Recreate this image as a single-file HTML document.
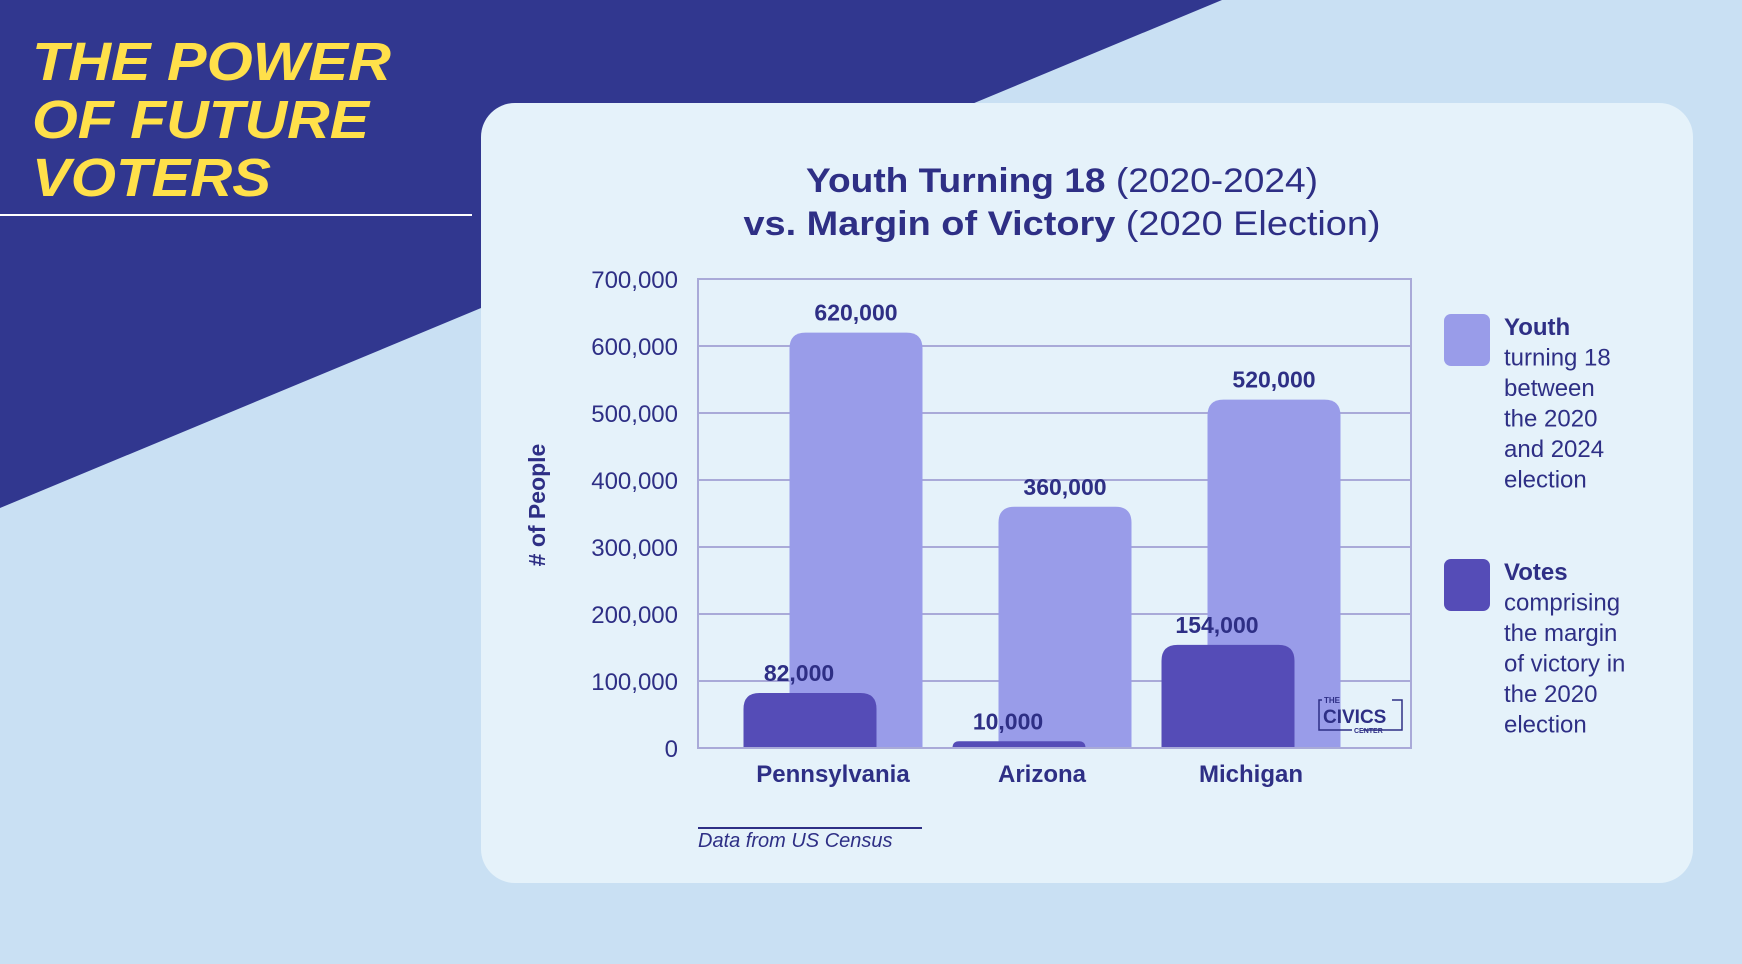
<!DOCTYPE html>
<html><head><meta charset="utf-8"><style>
html,body{margin:0;padding:0;width:1742px;height:964px;overflow:hidden;background:#c9e0f3;font-family:"Liberation Sans",sans-serif}
svg{display:block}
</style></head><body>
<svg width="1742" height="964" viewBox="0 0 1742 964">
<rect x="0" y="0" width="1742" height="964" fill="#c9e0f3"/>
<polygon points="0,0 1222,0 0,508" fill="#31378f"/>
<g font-family="Liberation Sans, sans-serif" font-weight="bold" font-style="italic" font-size="54" fill="#ffe04a">
<text x="32" y="80" textLength="359" lengthAdjust="spacingAndGlyphs">THE POWER</text>
<text x="32" y="138" textLength="337" lengthAdjust="spacingAndGlyphs">OF FUTURE</text>
<text x="32" y="196" textLength="239" lengthAdjust="spacingAndGlyphs">VOTERS</text>
</g>
<line x1="0" y1="215" x2="472" y2="215" stroke="#ffffff" stroke-width="2"/>
<rect x="481" y="103" width="1212" height="780" rx="34" fill="#e5f2fa"/>
<text x="1062" y="192" text-anchor="middle" font-size="34" fill="#2e2f85" textLength="512" lengthAdjust="spacingAndGlyphs"><tspan font-weight="bold">Youth Turning 18</tspan> (2020-2024)</text>
<text x="1062" y="235" text-anchor="middle" font-size="34" fill="#2e2f85" textLength="637" lengthAdjust="spacingAndGlyphs"><tspan font-weight="bold">vs. Margin of Victory</tspan> (2020 Election)</text>
<g id="chart"></g>
<text transform="translate(545,505) rotate(-90)" text-anchor="middle" font-size="23" font-weight="bold" fill="#2e2f85"># of People</text>
<g font-size="24" fill="#2e2f85">
<rect x="1444" y="314" width="46" height="52" rx="7" fill="#999ce9"/>
<text x="1504" y="335"><tspan font-weight="bold">Youth</tspan><tspan x="1504" dy="30.5">turning 18</tspan><tspan x="1504" dy="30.5">between</tspan><tspan x="1504" dy="30.5">the 2020</tspan><tspan x="1504" dy="30.5">and 2024</tspan><tspan x="1504" dy="30.5">election</tspan></text>
<rect x="1444" y="559" width="46" height="52" rx="7" fill="#554cb7"/>
<text x="1504" y="580"><tspan font-weight="bold">Votes</tspan><tspan x="1504" dy="30.5">comprising</tspan><tspan x="1504" dy="30.5">the margin</tspan><tspan x="1504" dy="30.5">of victory in</tspan><tspan x="1504" dy="30.5">the 2020</tspan><tspan x="1504" dy="30.5">election</tspan></text>
</g>
<line x1="698" y1="828" x2="922" y2="828" stroke="#2e2f85" stroke-width="2"/>
<text x="698" y="847" font-size="20" font-style="italic" fill="#2e2f85">Data from US Census</text>
<g id="logo" fill="#2e2f85">
<path d="M1322 700 H1319 V730 H1352 M1363 730 H1402 V700 H1392" fill="none" stroke="#2e2f85" stroke-width="1.5"/>
<text x="1324" y="703" font-size="8" font-weight="bold">THE</text>
<text x="1323" y="723" font-size="19" font-weight="bold">CIVICS</text>
<text x="1354" y="733" font-size="7" font-weight="bold">CENTER</text>
</g>
</svg>
<script>
const categories=["Pennsylvania","Arizona","Michigan"];
const youthValues=[620000,360000,520000];
const voteValues=[82000,10000,154000];
const yTicks=[0,100000,200000,300000,400000,500000,600000,700000];
const youthLabels=["620,000","360,000","520,000"];
const voteLabels=["82,000","10,000","154,000"];
const NS="http://www.w3.org/2000/svg";
const g=document.getElementById('chart');
const L=698,R=1411,T=279,B=748,maxV=700000;
const y=v=>B-(v/maxV)*(B-T);
const xc=i=>L+158+i*209;
const BW=133;
function mk(tag,attrs){const e=document.createElementNS(NS,tag);for(const k in attrs)e.setAttribute(k,attrs[k]);g.appendChild(e);return e;}
function fmt(v){return v.toLocaleString('en-US');}
yTicks.forEach((t,i)=>{
  if(t>0&&t<maxV){const l=mk('line',{x1:L,x2:R,y1:y(t),y2:y(t),stroke:'#a9aad8','stroke-width':2});
  
  }
  const tx=mk('text',{x:678,y:y(t)+9,'text-anchor':'end','font-size':24,fill:'#2e2f85'});
  tx.textContent=fmt(t);
  
  
});
function bar(x,v,fill){
  const h=B-y(v),r=Math.min(16,h);
  const d=`M${x} ${B} V${y(v)+r} Q${x} ${y(v)} ${x+r} ${y(v)} H${x+BW-r} Q${x+BW} ${y(v)} ${x+BW} ${y(v)+r} V${B} Z`;
  return mk('path',{d:d,fill:fill});
}
categories.forEach((c,i)=>{
  const cx=xc(i);
  const yb=bar(cx-BW/2,youthValues[i],'#999ce9');
  
  
  const yl=mk('text',{x:cx,y:y(youthValues[i])-12,'text-anchor':'middle','font-size':23,'font-weight':'bold',fill:'#2e2f85'});
  yl.textContent=youthLabels[i];
  
  
  const vx=cx-46;
  const vb=bar(vx-BW/2,voteValues[i],'#554cb7');
  
  
  const vl=mk('text',{x:vx-11,y:y(voteValues[i])-12,'text-anchor':'middle','font-size':23,'font-weight':'bold',fill:'#2e2f85'});
  vl.textContent=voteLabels[i];
  
  
  const cl=mk('text',{x:cx-23,y:782,'text-anchor':'middle','font-size':24,'font-weight':'bold',fill:'#2e2f85'});
  cl.textContent=c;
  
  
});
const frame=mk('rect',{x:L,y:T,width:R-L,height:B-T,fill:'none',stroke:'#a9aad8','stroke-width':2});


g.parentNode.appendChild(document.getElementById('logo'));
</script>
</body></html>
